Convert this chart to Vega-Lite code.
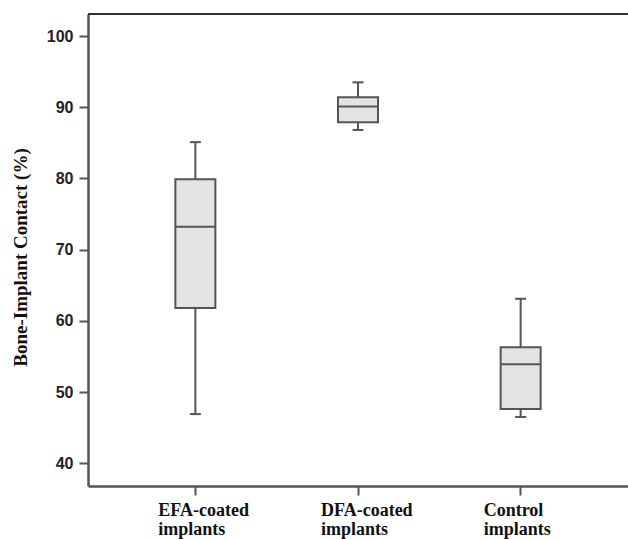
{
  "$schema": "https://vega.github.io/schema/vega-lite/v6.json",
  "autosize": {"type": "none"},
  "padding": {"left": 88, "top": 14, "right": 0, "bottom": 53},
  "width": 540,
  "height": 472,
  "background": "white",
  "config": {"view": {"stroke": null}},
  "data": {
    "values": [
      {"group": "EFA-coated implants", "min": 46.9, "q1": 61.8, "median": 73.2, "q3": 79.9, "max": 85.1},
      {"group": "DFA-coated implants", "min": 86.8, "q1": 87.9, "median": 90.1, "q3": 91.4, "max": 93.5},
      {"group": "Control implants", "min": 46.5, "q1": 47.6, "median": 53.9, "q3": 56.3, "max": 63.1}
    ]
  },
  "layer": [
    {
      "mark": {"type": "rule", "color": "#555", "strokeWidth": 2},
      "encoding": {
        "x": {
          "field": "group",
          "type": "nominal",
          "sort": null,
          "scale": {"paddingInner": 0, "paddingOuter": 0.16},
          "axis": {
            "title": null,
            "labelAngle": 0,
            "labelExpr": "split(datum.label, ' ')",
            "labelAlign": "left",
            "labelOffset": -37,
            "labelBaseline": "top",
            "labelFont": "Liberation Serif",
            "labelFontWeight": "bold",
            "labelFontSize": 18,
            "labelLineHeight": 19,
            "labelColor": "#111",
            "labelPadding": 6,
            "tickSize": 9,
            "tickColor": "#555",
            "tickWidth": 2,
            "domainColor": "#555",
            "domainWidth": 2.5
          }
        },
        "y": {
          "field": "min",
          "type": "quantitative",
          "scale": {"domain": [36.8, 103.1], "nice": false, "zero": false},
          "axis": {
            "values": [40, 50, 60, 70, 80, 90, 100],
            "grid": false,
            "title": "Bone-Implant Contact (%)",
            "titleFont": "Liberation Serif",
            "titleFontWeight": "bold",
            "titleFontSize": 19,
            "titleColor": "#111",
            "titlePadding": 16,
            "titleY": 243,
            "labelFont": "Liberation Sans",
            "labelFontWeight": "bold",
            "labelFontSize": 16,
            "labelColor": "#222",
            "labelPadding": 6,
            "tickSize": 9,
            "tickColor": "#555",
            "tickWidth": 2,
            "domainColor": "#555",
            "domainWidth": 2.5
          }
        },
        "y2": {"field": "max"}
      }
    },
    {
      "mark": {"type": "bar", "size": 40, "fill": "#e4e4e4", "stroke": "#555", "strokeWidth": 2},
      "encoding": {
        "x": {"field": "group", "type": "nominal", "sort": null},
        "y": {"field": "q1", "type": "quantitative"},
        "y2": {"field": "q3"}
      }
    },
    {
      "mark": {"type": "tick", "size": 40, "thickness": 2, "color": "#555", "opacity": 1},
      "encoding": {
        "x": {"field": "group", "type": "nominal", "sort": null},
        "y": {"field": "median", "type": "quantitative"}
      }
    },
    {
      "mark": {"type": "tick", "size": 11, "thickness": 2, "color": "#555", "opacity": 1},
      "encoding": {
        "x": {"field": "group", "type": "nominal", "sort": null},
        "y": {"field": "min", "type": "quantitative"}
      }
    },
    {
      "mark": {"type": "tick", "size": 11, "thickness": 2, "color": "#555", "opacity": 1},
      "encoding": {
        "x": {"field": "group", "type": "nominal", "sort": null},
        "y": {"field": "max", "type": "quantitative"}
      }
    },
    {
      "mark": {"type": "rule", "color": "#333", "strokeWidth": 2},
      "encoding": {"y": {"datum": 103.1}}
    }
  ]
}
